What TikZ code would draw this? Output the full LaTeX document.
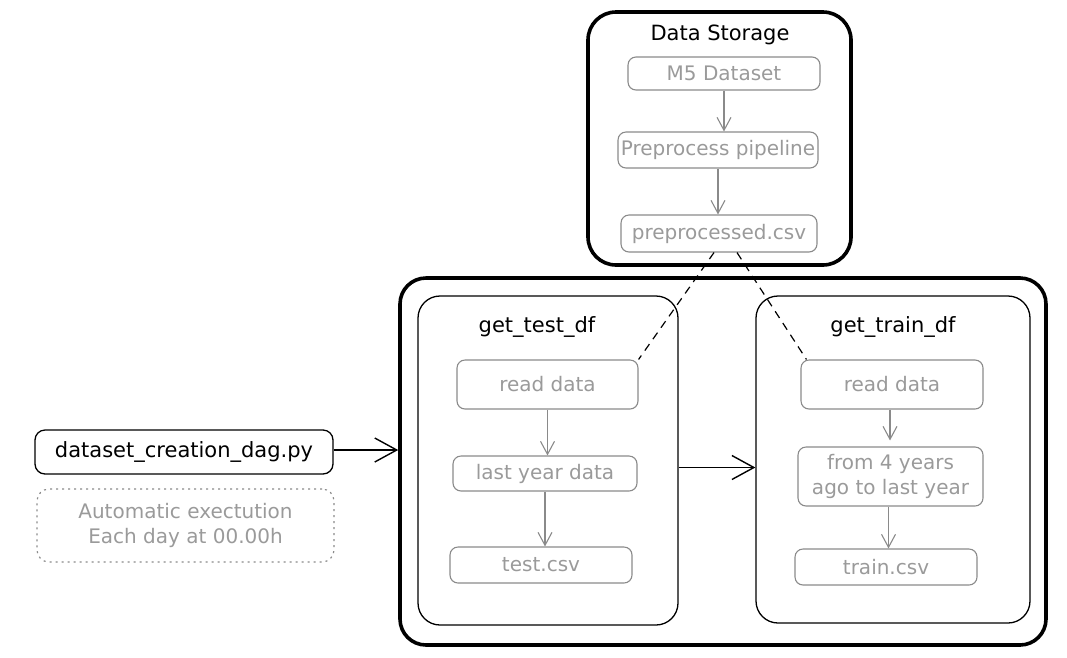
\documentclass[tikz,border=0pt]{standalone}
\usepackage{fontspec}
\setmainfont{DejaVu Sans}
\usetikzlibrary{arrows.meta}
\definecolor{softgray}{HTML}{9A9A9A}
\definecolor{edgegray}{HTML}{8A8A8A}
\begin{document}
\begin{tikzpicture}[x=1pt,y=1pt,
  txt/.style={font=\fontsize{20}{25}\selectfont, align=center},
  heavybox/.style={draw=black, line width=3.6pt, rounded corners=28pt},
  frame/.style={draw=black, line width=1.3pt, rounded corners=22pt},
  stepbox/.style={txt, draw=edgegray, line width=1.1pt, rounded corners=8pt, text=softgray, inner sep=0pt},
  title/.style={txt, font=\fontsize{21}{25}\selectfont, text=black},
  arr/.style={draw=edgegray, line width=1.1pt, -{Straight Barb[length=13pt,width=14pt,line width=1.1pt]}},
  bigarr/.style={draw=black, line width=1.3pt, -{Straight Barb[length=22pt,width=24pt,line width=1.4pt]}},
  link/.style={draw=black, line width=1.2pt, dash pattern=on 8pt off 6pt}
]
\useasboundingbox (0,0) rectangle (1067,-657);

% Data storage group
\node[heavybox, minimum width=263pt, minimum height=253pt] (store) at (719.5,-138.5) {};
\node[title] (storet) at (720,-35) {Data Storage};
\node[stepbox, minimum width=192pt, minimum height=33pt] (m5) at (724,-73.5) {M5 Dataset};
\node[stepbox, minimum width=200pt, minimum height=36pt] (prep) at (718,-150) {Preprocess pipeline};
\node[stepbox, minimum width=196pt, minimum height=37pt] (ppcsv) at (719,-233.5) {preprocessed.csv};
\draw[arr] (m5.south) -- (m5.south |- prep.north);
\draw[arr] (prep.south) -- (prep.south |- ppcsv.north);

% DAG group
\node[heavybox, rounded corners=26pt, minimum width=646pt, minimum height=367pt] (dagbox) at (723,-461.5) {};

% get_test_df task
\node[frame, minimum width=260pt, minimum height=329pt] (testf) at (548,-460.5) {};
\node[title] (testt) at (537,-327) {get\_test\_df};
\node[stepbox, minimum width=181pt, minimum height=49pt] (rtest) at (547.5,-384.5) {read data};
\node[stepbox, minimum width=184pt, minimum height=35pt] (lastyr) at (545,-473.5) {last year data};
\node[stepbox, minimum width=182pt, minimum height=36pt] (testcsv) at (541,-565) {test.csv};
\draw[arr] (rtest.south) -- (rtest.south |- lastyr.north);
\draw[arr] (lastyr.south) -- (lastyr.south |- testcsv.north);

% get_train_df task
\node[frame, minimum width=274pt, minimum height=327pt] (trainf) at (893,-459.5) {};
\node[title] (traint) at (893,-327) {get\_train\_df};
\node[stepbox, minimum width=182pt, minimum height=49pt] (rtrain) at (892,-384.5) {read data};
\node[stepbox, minimum width=185pt, minimum height=59pt] (span) at (890.5,-476.5) {from 4 years\\ago to last year};
\node[stepbox, minimum width=182pt, minimum height=36pt] (traincsv) at (886,-567) {train.csv};
\draw[arr, shorten >=6pt] ([xshift=-2pt]rtrain.south) -- ([xshift=-2pt]rtrain.south |- span.north);
\draw[arr] ([xshift=-2pt]span.south) -- ([xshift=-2pt]span.south |- traincsv.north);

% task order
\draw[bigarr] ([yshift=-7pt]testf.east) -- ([yshift=-7pt]testf.east -| trainf.west);

% data links
\draw[link] ([xshift=-5pt]ppcsv.south) -- (rtest.north east);
\draw[link] ([xshift=18pt]ppcsv.south) -- ([xshift=6pt]rtrain.north west);

% DAG file and schedule
\node[txt, font=\fontsize{21}{25}\selectfont, draw=black, line width=1.3pt, rounded corners=10pt, minimum width=298pt, minimum height=44pt] (dag) at (184,-452) {dataset\_creation\_dag.py};
\node[txt, draw=edgegray, line width=1.2pt, dash pattern=on 2pt off 4pt, rounded corners=12pt, text=softgray, minimum width=297pt, minimum height=73pt] (note) at (185.5,-525.5) {Automatic exectution\\Each day at 00.00h};
\draw[bigarr] ([yshift=2pt]dag.east) -- ([yshift=2pt]dag.east -| dagbox.west);
\end{tikzpicture}
\end{document}
